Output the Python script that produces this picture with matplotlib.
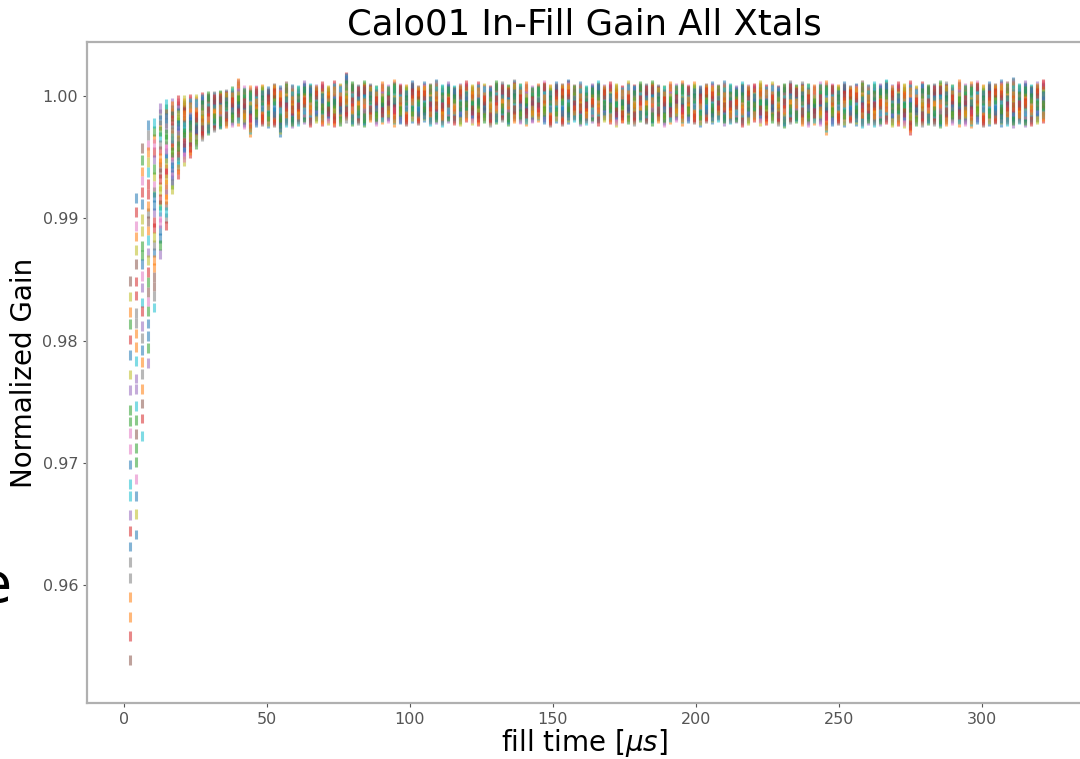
import numpy as np
import matplotlib
matplotlib.use("Agg")
import matplotlib.pyplot as plt

# fill time grid (us), one laser pulse every ~2.1 us
fill_time = np.arange(1, 154) * 2.1

# visible extent of each column, early rise (k0..k15)
lo_early = [0.9529, 0.9632, 0.9713, 0.9774, 0.9820, 0.9864, 0.9888, 0.9918,
            0.9931, 0.9942, 0.9948, 0.9956, 0.9962, 0.9967, 0.9970, 0.9972]
hi_early = [0.9856, 0.9923, 0.9964, 0.9982, 0.9983, 0.9995, 0.9998, 0.9999,
            1.0001, 1.0001, 1.0002, 1.0002, 1.0003, 1.0004, 1.0004, 1.0005]

# flat part: top above 1 and bottom below 1, in units of 1e-4
hi_flat = [6, 8, 15, 9, 9, 9, 10, 8, 11, 9,
           12, 10, 9, 13, 11, 10, 12, 9, 13, 11,
           20, 12, 10, 13, 11, 9, 12, 10, 14, 11,
           10, 13, 9, 12, 11, 14, 10, 12, 9, 11,
           13, 10, 12, 11, 9, 13, 12, 10, 14, 11,
           12, 9, 11, 13, 10, 12, 11, 14, 10, 12,
           9, 11, 13, 10, 12, 11, 9, 13, 10, 12,
           11, 13, 10, 9, 12, 11, 13, 10, 12, 9,
           11, 12, 10, 13, 11, 9, 12, 10, 11, 13,
           10, 12, 9, 11, 13, 10, 12, 11, 10, 12,
           13, 11, 10, 12, 9, 11, 13, 10, 12, 11,
           14, 10, 12, 11, 13, 9, 12, 10, 11, 13,
           12, 10, 14, 11, 12, 13, 10, 12, 11, 14,
           12, 16, 11, 13, 10, 12, 14]
lo_flat = [27, 26, 25, 28, 34, 26, 25, 27, 26, 34,
           26, 27, 25, 24, 26, 23, 25, 24, 26, 25,
           23, 25, 24, 26, 22, 25, 24, 23, 26, 24,
           25, 23, 24, 22, 25, 24, 26, 23, 24, 25,
           22, 24, 25, 23, 26, 24, 22, 25, 23, 24,
           25, 23, 22, 24, 26, 23, 25, 24, 22, 25,
           24, 23, 25, 22, 24, 26, 23, 24, 25, 22,
           24, 25, 23, 26, 24, 22, 25, 23, 24, 26,
           23, 24, 22, 25, 24, 23, 26, 24, 22, 25,
           24, 23, 25, 27, 24, 23, 25, 26, 24, 25,
           33, 25, 24, 26, 23, 25, 27, 24, 26, 25,
           24, 26, 25, 27, 33, 25, 26, 24, 25, 27,
           25, 24, 26, 25, 27, 24, 26, 25, 24, 26,
           25, 27, 24, 26, 25, 24, 23]

# relative position of each crystal inside a column
xtal_frac = [0.52, 0.13, 0.88, 0.35, 0.71, 0.02, 0.60, 0.27, 0.95, 0.44,
             0.80, 0.18, 0.66, 0.08, 0.39, 0.99, 0.56, 0.23, 0.75, 0.47,
             0.31, 0.91, 0.63, 0.84]
gain_err = 0.0004

col_lo = np.array(lo_early + [1 - v * 1e-4 for v in lo_flat])
col_hi = np.array(hi_early + [1 + v * 1e-4 for v in hi_flat])
c_lo = col_lo + gain_err
c_hi = col_hi - gain_err

fig = plt.figure(figsize=(10.8, 7.59), dpi=100)
ax = fig.add_axes([0.0806, 0.0738, 0.921, 0.871])

n = len(xtal_frac)
frac = np.array(xtal_frac)
k = np.arange(len(fill_time))
for i in range(n):
    f = frac[(i + 5 * k) % n]
    gain = c_lo + f * (c_hi - c_lo)
    ax.errorbar(fill_time, gain, yerr=gain_err, fmt='none',
                elinewidth=2.2, alpha=0.55, color=f'C{i % 10}')

ax.set_xlim(-12.9, 335)
ax.set_ylim(0.9504, 1.0044)
ax.set_xticks([0, 50, 100, 150, 200, 250, 300])
ax.set_yticks([0.96, 0.97, 0.98, 0.99, 1.00])
ax.set_yticklabels(['0.96', '0.97', '0.98', '0.99', '1.00'])
ax.tick_params(labelsize=11.5, colors='#555555', length=3)
for s in ax.spines.values():
    s.set_color('#b0b0b0')
    s.set_linewidth(1.6)

ax.set_title('Calo01 In-Fill Gain All Xtals', fontsize=25.5, pad=5)
ax.set_xlabel(r'fill time [$\mu s$]', fontsize=20)
ax.set_ylabel('Normalized Gain', fontsize=20)
ax.yaxis.set_label_coords(-0.049, 0.5)
ax.xaxis.set_label_coords(0.5, -0.036)

# cropped slide text at the left edge
fig.text(12 / 1080, 1 - 602 / 759, 'e', fontsize=40, ha='right', va='baseline')

fig.savefig('out.png', dpi=100)
